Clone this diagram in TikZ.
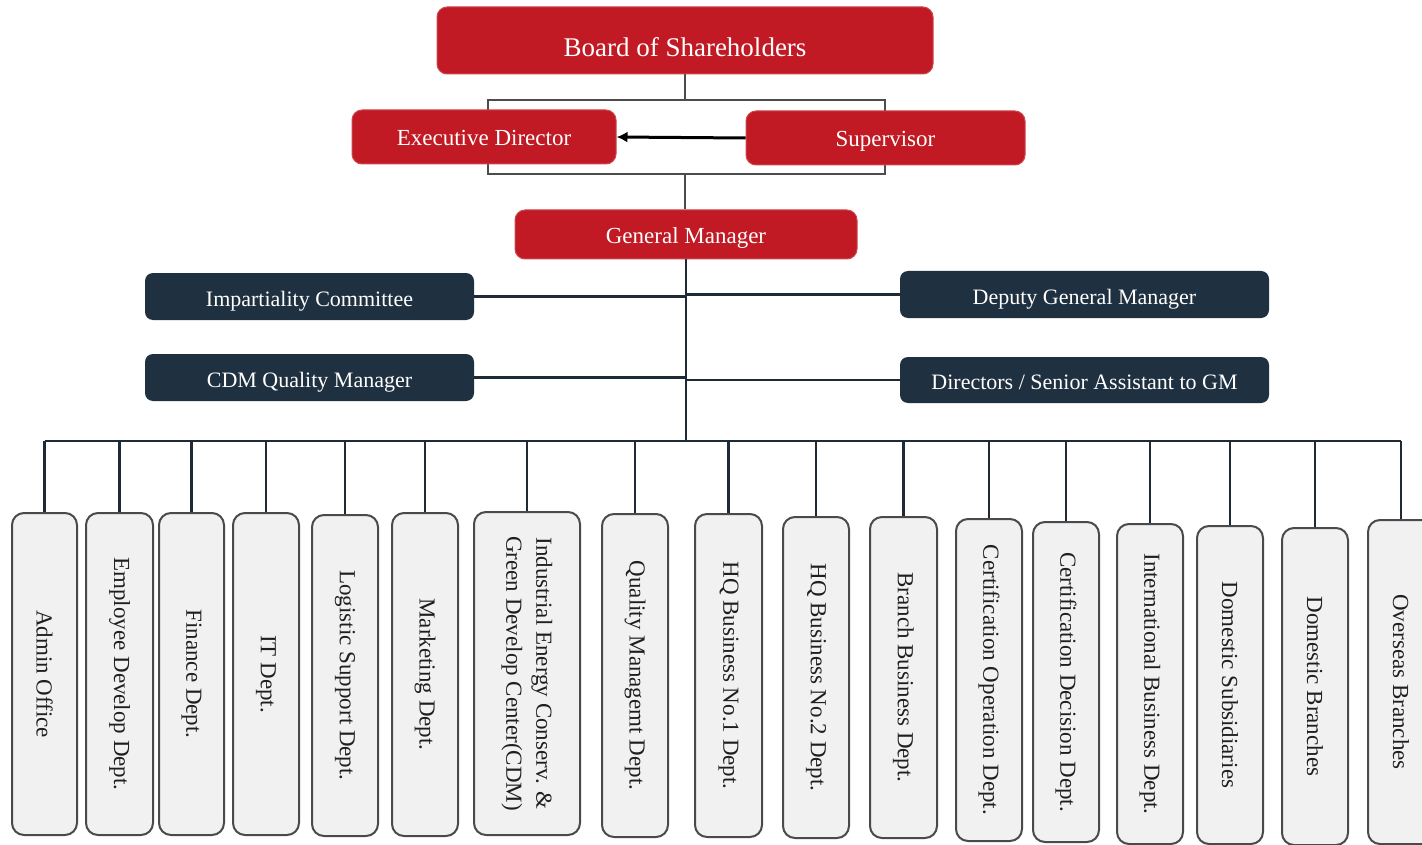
\documentclass[tikz,border=0pt]{standalone}
\usepackage{fontspec}
\setmainfont{Liberation Serif}
\usetikzlibrary{arrows.meta}
\definecolor{boardred}{RGB}{193,26,36}
\definecolor{navy}{RGB}{31,48,64}
\definecolor{linedark}{RGB}{30,42,54}
\definecolor{deptfill}{RGB}{241,241,241}
\definecolor{deptline}{RGB}{74,74,74}
\begin{document}
\begin{tikzpicture}[x=1pt,y=-1pt,
  redbox/.style={fill=boardred,draw=boardred!80!white,line width=1pt,rounded corners=10pt,
    inner sep=0pt,text=white,text height=18pt,text depth=0pt,font=\fontsize{23}{27}\selectfont},
  navybox/.style={fill=navy,rounded corners=8pt,inner sep=0pt,text=white,
    text height=19pt,text depth=0pt,font=\fontsize{22}{26}\selectfont},
  deptbox/.style={fill=deptfill,draw=deptline,line width=2pt,rounded corners=12pt,inner sep=0pt},
  depttext/.style={rotate=-90,align=center,text=black!88,font=\fontsize{23}{30}\selectfont},
  link/.style={draw=linedark,line width=2.5pt},
  thin/.style={draw=black!70,line width=1.2pt}]
\useasboundingbox (0,0) rectangle (1422,845);
\fill[white] (0,0) rectangle (1422,845);
				% top of the chart
				\node[redbox,minimum width=496pt,minimum height=67pt,text height=33pt,font=\fontsize{27}{30}\selectfont] (board) at (685,40.5){Board of Shareholders};
				\node[thin,minimum width=397pt,minimum height=74pt,inner sep=0pt] (grp) at (686.5,137){};
				\node[redbox,minimum width=264pt,minimum height=54pt] (exec) at (484,137){Executive Director};
				\node[redbox,minimum width=279pt,minimum height=54pt] (sup) at (885.5,138){Supervisor};
				\node[redbox,minimum width=342pt,minimum height=49pt] (gm) at (686,234.5){General Manager};
				\draw[thin] (board.south)--(board.south|-grp.north);
				\draw[thin] (grp.south-|board.south)--(gm.north-|board.south);
				\draw[line width=3pt,-{Latex[length=11pt,width=11pt]}] (sup.west)--(exec.east);
				% staff around the general manager
				\node[navybox,minimum width=329pt,minimum height=47pt] (imp) at (309.5,296.5){Impartiality Committee};
				\node[navybox,minimum width=369pt,minimum height=47pt] (dgm) at (1084.5,294.5){Deputy General Manager};
				\node[navybox,minimum width=329pt,minimum height=47pt] (cdmq) at (309.5,377.5){CDM Quality Manager};
				\node[navybox,minimum width=369pt,minimum height=46pt] (dirs) at (1084.5,380){Directors / Senior Assistant to GM};
				\coordinate (bus) at (0,441);
				\draw[link,line width=2pt] (gm.south)--(gm.south|-bus);
				\draw[link] (imp.east)--(imp.east-|gm.south);
				\draw[link] (cdmq.east)--(cdmq.east-|gm.south);
				\draw[link] (dgm.west)--(dgm.west-|gm.south);
				\draw[link] (dirs.west)--(dirs.west-|gm.south);
				% departments
				\foreach \i/\cx/\w/\top/\bot/\lbl in {
				  1/44.5/65/513/835/{Admin Office},
				  2/119.5/67/513/835/{Employee Develop Dept.},
				  3/191.5/65/513/835/{Finance Dept.},
				  4/266/66/513/835/{IT Dept.},
				  5/345/66/515/836/{Logistic Support Dept.},
				  6/425/66/513/836/{Marketing Dept.},
				  7/527/106/512/835/{Industrial Energy Conserv. \&\\Green Develop Center(CDM)},
				  8/635/66/514/837/{Quality Managemt Dept.},
				  9/728.5/67/514/837/{HQ Business No.1 Dept.},
				  10/816/66/517/838/{HQ Business No.2 Dept.},
				  11/903.5/67/517/838/{Branch Business Dept.},
				  12/989/66/519/841/{Certification Operation Dept.},
				  13/1066/66/522/842/{Certification Decision Dept.},
				  14/1150/66/524/844/{International Business Dept.},
				  15/1230/66/526/844/{Domestic Subsidiaries},
				  16/1315/66/528/845/{Domestic Branches},
				  17/1401/66/520/844/{Overseas Branches}}{
				  \pgfmathsetmacro\h{\bot-\top}
				  \pgfmathsetmacro\cy{(\bot+\top)/2}
				  \node[deptbox,minimum width=\w pt,minimum height=\h pt] (d\i) at (\cx,\cy){};
				  \node[depttext] (t\i) at (d\i){\lbl};
				  \draw[link] (d\i.north|-bus)--(d\i.north);
				}
				\draw[link,line width=2pt] (d1.north|-bus)--(d17.north|-bus);
\end{tikzpicture}
\end{document}
